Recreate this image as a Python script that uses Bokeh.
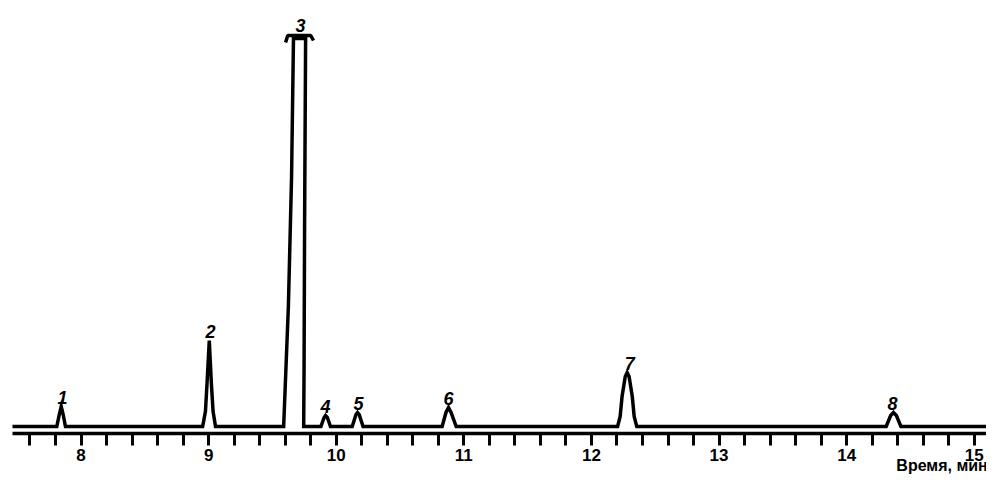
from bokeh.plotting import figure
from bokeh.models import Range1d, FixedTicker, ColumnDataSource
from bokeh.core.properties import value
from bokeh.embed import file_html
from bokeh.resources import INLINE

# ---- data ----
# chromatogram trace (time, min ; detector response, arbitrary units)
chrom_t = [7.40,
           7.81, 7.83, 7.845, 7.86, 7.878,
           8.953, 8.975, 8.987, 9.005, 9.022, 9.035, 9.054,
           9.588, 9.625, 9.65, 9.665, 9.76, 9.752, 9.748, 9.745,
           9.88, 9.905, 9.916, 9.93, 9.955,
           10.125, 10.155, 10.167, 10.18, 10.21,
           10.83, 10.86, 10.88, 10.9, 10.94,
           12.205, 12.225, 12.24, 12.265, 12.28, 12.295, 12.32, 12.335, 12.355,
           14.31, 14.345, 14.367, 14.39, 14.425,
           15.20]
chrom_y = [0,
           0, 12, 20, 12, 0,
           0, 15, 42, 86, 42, 15, 0,
           0, 120, 250, 388, 388, 200, 60, 0,
           0, 9, 11, 9, 0,
           0, 12, 14, 12, 0,
           0, 14, 19, 14, 0,
           0, 10, 30, 50, 54, 50, 30, 10, 0,
           0, 11, 14, 11, 0,
           0]

# off-scale cap on peak 3
cap_t = [9.603, 9.62, 9.80, 9.822]
cap_y = [384, 391, 391, 386]

peak_labels = ["1", "2", "3", "4", "5", "6", "7", "8"]
peak_times = [7.855, 9.015, 9.72, 9.916, 10.175, 10.88, 12.30, 14.36]
peak_heights = [20, 86, 392, 11, 14, 19, 54, 14]

tick_values = [8, 9, 10, 11, 12, 13, 14, 15]
minor_tick_values = [7.6, 7.8, 8.2, 8.4, 8.6, 8.8, 9.2, 9.4, 9.6, 9.8,
                     10.2, 10.4, 10.6, 10.8, 11.2, 11.4, 11.6, 11.8,
                     12.2, 12.4, 12.6, 12.8, 13.2, 13.4, 13.6, 13.8,
                     14.2, 14.4, 14.6, 14.8]
x_title = "Время, мин"

FONT = "Liberation Sans"

p = figure(width=986, height=477, output_backend="svg", toolbar_location=None,
           x_range=Range1d(7.463, 15.096), y_range=Range1d(-7, 418),
           min_border_left=12, min_border_right=0, min_border_top=8,
           min_border_bottom=44, outline_line_color=None,
           y_axis_location=None)
p.grid.visible = False
p.background_fill_color = "white"
p.border_fill_color = "white"

p.line(chrom_t, chrom_y, line_color="black", line_width=3.5, line_join="miter")
p.line(cap_t, cap_y, line_color="black", line_width=3.5)

lab_src = ColumnDataSource(dict(x=peak_times,
                                y=[h + 9 for h in peak_heights],
                                t=peak_labels))
p.text(x="x", y="y", text="t", source=lab_src, text_align="center",
       text_baseline="alphabetic", text_font=value(FONT),
       text_font_style="bold italic", text_font_size="18px", text_color="black")

ax = p.xaxis[0]
ax.ticker = FixedTicker(ticks=tick_values, minor_ticks=minor_tick_values)
ax.axis_line_width = 3.5
ax.axis_line_color = "black"
ax.major_tick_line_width = 3
ax.minor_tick_line_width = 3
ax.major_tick_in = 0
ax.major_tick_out = 12
ax.minor_tick_in = 0
ax.minor_tick_out = 12
ax.major_label_text_font = FONT
ax.major_label_text_font_style = "bold"
ax.major_label_text_font_size = "17px"
ax.major_label_text_color = "black"
ax.major_label_standoff = 3
# axis title sits at the right end; non-breaking padding keeps it inside
ax.axis_label = x_title + "\u00a0" * 20
ax.axis_label_align = "end"
ax.axis_label_standoff = -7
ax.axis_label_text_font = FONT
ax.axis_label_text_font_style = "bold"
ax.axis_label_text_font_size = "16px"
ax.axis_label_text_color = "black"

open("out.html", "w").write(file_html(p, INLINE))
